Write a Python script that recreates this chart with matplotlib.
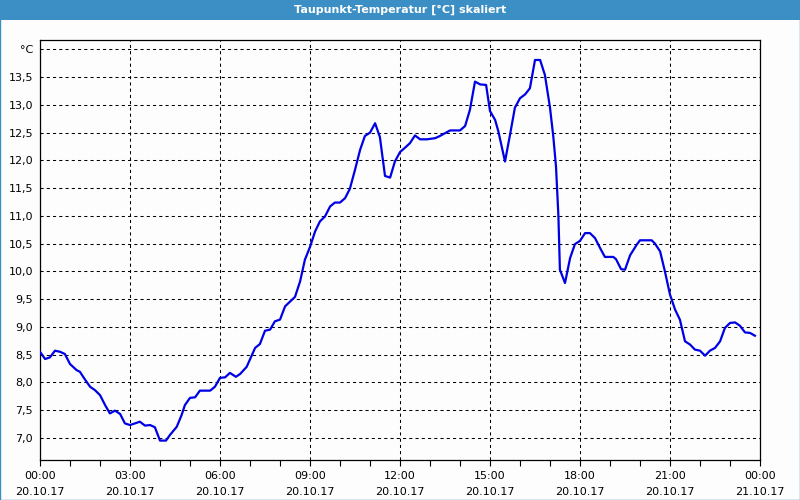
"""Taupunkt-Temperatur (dew point), 20.10.17, redrawn from a logger screenshot."""

import matplotlib
matplotlib.use("Agg")
import matplotlib.pyplot as plt
from matplotlib.patches import Rectangle
from matplotlib.ticker import MultipleLocator, FixedLocator

TITLE = "Taupunkt-Temperatur [°C] skaliert"

# Hours since 20.10.17 00:00 and dew point in °C.
hours = [
    0.00, 0.17, 0.33, 0.50, 0.67, 0.83, 1.00, 1.22, 1.33, 1.50, 1.67, 1.83,
    2.00, 2.17, 2.33, 2.50, 2.67, 2.83, 3.00, 3.17, 3.33, 3.50, 3.67, 3.83,
    4.00, 4.20, 4.33, 4.56, 4.72, 4.83, 5.00, 5.17, 5.33, 5.67, 5.83, 6.00,
    6.17, 6.33, 6.53, 6.67, 6.89, 7.17, 7.33, 7.50, 7.67, 7.83, 8.00, 8.17,
    8.50, 8.67, 8.83, 9.00, 9.17, 9.33, 9.50, 9.67, 9.83, 10.00, 10.17, 10.33,
    10.50, 10.67, 10.83, 11.00, 11.17, 11.33, 11.50, 11.67, 11.83, 12.00,
    12.17, 12.33, 12.50, 12.67, 12.89, 13.17, 13.33, 13.50, 13.67, 14.00,
    14.17, 14.33, 14.50, 14.67, 14.87, 15.00, 15.17, 15.28, 15.50, 15.67,
    15.83, 16.00, 16.17, 16.33, 16.50, 16.67, 16.83, 17.00, 17.11, 17.20,
    17.28, 17.33, 17.50, 17.67, 17.83, 18.00, 18.17, 18.33, 18.50, 18.67,
    18.83, 19.11, 19.20, 19.37, 19.50, 19.67, 19.89, 20.00, 20.39, 20.50,
    20.67, 20.83, 21.00, 21.17, 21.33, 21.50, 21.67, 21.83, 22.00, 22.17,
    22.33, 22.50, 22.67, 22.83, 23.00, 23.17, 23.33, 23.50, 23.67, 23.83,
]
dew_point = [
    8.55, 8.42, 8.45, 8.57, 8.55, 8.51, 8.33, 8.22, 8.19, 8.05, 7.92, 7.86,
    7.77, 7.59, 7.44, 7.49, 7.43, 7.26, 7.23, 7.26, 7.29, 7.22, 7.23, 7.19,
    6.95, 6.95, 7.05, 7.20, 7.41, 7.59, 7.72, 7.73, 7.85, 7.85, 7.92, 8.08,
    8.09, 8.17, 8.10, 8.15, 8.28, 8.62, 8.69, 8.93, 8.95, 9.10, 9.13, 9.37,
    9.54, 9.82, 10.21, 10.44, 10.72, 10.90, 10.99, 11.17, 11.24, 11.24, 11.32, 11.49,
    11.83, 12.19, 12.44, 12.50, 12.67, 12.42, 11.72, 11.69, 11.98, 12.15,
    12.23, 12.31, 12.45, 12.38, 12.38, 12.40, 12.44, 12.49, 12.54, 12.54,
    12.62, 12.91, 13.42, 13.37, 13.36, 12.89, 12.73, 12.52, 11.98, 12.47,
    12.95, 13.12, 13.19, 13.30, 13.81, 13.81, 13.54, 12.95, 12.43, 11.89,
    11.00, 10.03, 9.79, 10.24, 10.49, 10.55, 10.69, 10.69, 10.60, 10.42,
    10.26, 10.26, 10.22, 10.04, 10.03, 10.29, 10.48, 10.56, 10.56, 10.50,
    10.36, 10.00, 9.58, 9.31, 9.13, 8.74, 8.68, 8.59, 8.57, 8.48,
    8.57, 8.62, 8.74, 8.98, 9.07, 9.08, 9.02, 8.90, 8.89, 8.84,
]

x_tick_hours = [0, 3, 6, 9, 12, 15, 18, 21, 24]
x_tick_labels = [
    "00:00\n20.10.17", "03:00\n20.10.17", "06:00\n20.10.17", "09:00\n20.10.17",
    "12:00\n20.10.17", "15:00\n20.10.17", "18:00\n20.10.17", "21:00\n20.10.17",
    "00:00\n21.10.17",
]
y_tick_values = [7.0, 7.5, 8.0, 8.5, 9.0, 9.5, 10.0, 10.5, 11.0, 11.5,
                 12.0, 12.5, 13.0, 13.5, 14.0]

FRAME_BLUE = "#3C8FC4"
BG = "#FCFDFC"

plt.rcParams["font.family"] = ["DejaVu Sans"]

fig = plt.figure(figsize=(8, 5), dpi=100, facecolor=BG)
ax = fig.add_axes([0.05, 0.08, 0.90, 0.84], facecolor=BG)

# Title bar and thin outer frame of the window.
fig.patches.append(Rectangle((0, 0.96), 1, 0.04, transform=fig.transFigure,
                             facecolor=FRAME_BLUE, edgecolor="none", zorder=0))
fig.patches.append(Rectangle((0.0006, 0.001), 0.9988, 0.998, transform=fig.transFigure,
                             facecolor="none", edgecolor=FRAME_BLUE, lw=1.0, zorder=5))
fig.text(0.5, 0.98, TITLE, ha="center", va="center", color="white",
         fontsize=8, fontweight="bold")

ax.plot(hours, dew_point, color="#0000E6", lw=1.6, zorder=3)

ax.set_xlim(0, 24)
ax.set_ylim(6.6, 14.17)

ax.xaxis.set_major_locator(FixedLocator(x_tick_hours))
ax.xaxis.set_minor_locator(MultipleLocator(1))
ax.set_xticklabels(x_tick_labels, fontsize=8, linespacing=1.75)
ax.tick_params(axis="x", which="both", direction="out", length=4, width=0.8,
               color="black", pad=4)

ax.yaxis.set_major_locator(FixedLocator(y_tick_values))
ax.set_yticklabels([f"{v:.1f}".replace(".", ",") if v < 14 else "°C"
                    for v in y_tick_values], fontsize=8)
ax.tick_params(axis="y", which="both", length=0, pad=5)

ax.grid(True, which="major", color="black", lw=0.75, linestyle=(0, (3, 3)))
for spine in ax.spines.values():
    spine.set_color("black")
    spine.set_linewidth(0.9)

fig.savefig("out.png", dpi=100, facecolor=BG)
